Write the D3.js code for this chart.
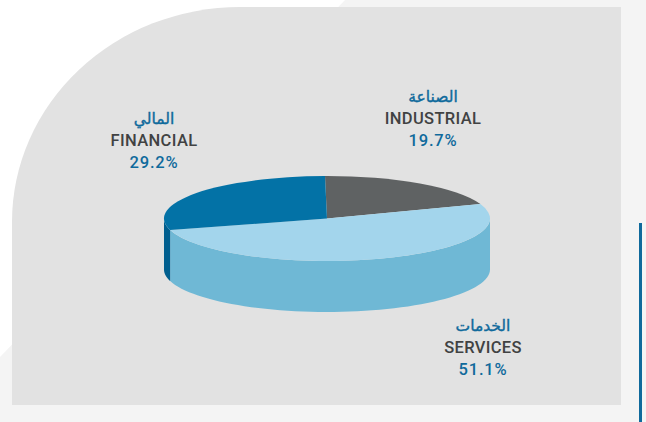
<!DOCTYPE html>
<html>
<head>
<meta charset="utf-8">
<script src="https://cdn.jsdelivr.net/npm/d3@7"></script>
<style>
  html, body { margin: 0; padding: 0; background: #fff; }
  svg { display: block; }
  text { text-anchor: middle; }
  .name { font-family: Roboto, sans-serif; font-weight: 500; font-size: 16.5px; letter-spacing: 0.35px; fill: #414243; }
  .pct { font-family: Roboto, sans-serif; font-weight: 500; font-size: 16.5px; letter-spacing: 0.8px; fill: #0f6a9c; }
  .ar { font-family: "DejaVu Sans", sans-serif; font-size: 15.5px; fill: #0f6a9c; stroke: #0f6a9c; stroke-width: 0.4px; }
</style>
</head>
<body>
<div class="chart"></div>
<script>
const categories = ["INDUSTRIAL", "SERVICES", "FINANCIAL"];
const arabicNames = ["الصناعة", "الخدمات", "المالي"];
const shares = [19.7, 51.1, 29.2];

const topColors = ["#5f6263", "#a3d5ec", "#0372a6"];
const sideColors = ["#4b4e4f", "#6fb8d5", "#005f8f"];

const width = 646,
  height = 422;

// pie geometry
const cx = 327,
  cy = 218.5,
  rx = 163,
  ry = 42.5,
  depth = 51;

// where each label block is centred, and the baseline of its middle line
const labelX = [433, 483, 154];
const labelY = [124, 353, 146];

const svg = d3
  .select(".chart")
  .append("svg")
  .attr("width", width)
  .attr("height", height)
  .attr("viewBox", "0 0 " + width + " " + height);

// backdrop: pale sheet with a cut corner, then the grey panel
svg
  .append("path")
  .attr("d", "M0 357L345 0H646V422H0Z")
  .attr("fill", "#f4f4f4");

svg
  .append("path")
  .attr("d", "M12 405V222A228 215 0 0 1 240 7H621V405Z")
  .attr("fill", "#e2e2e2");

svg
  .append("rect")
  .attr("x", 639)
  .attr("y", 223)
  .attr("width", 3)
  .attr("height", height - 223)
  .attr("fill", "#0f6a9c");

const startAngle = (-0.7 * Math.PI) / 180;

const pie = d3
  .pie()
  .sort(null)
  .startAngle(startAngle)
  .endAngle(startAngle + 2 * Math.PI);

const slices = pie(shares);

// Side wall of one slice: only the part facing the viewer (90 to 270 degrees)
const wallPath = function (d) {
  const a0 = Math.max(d.startAngle, Math.PI / 2);
  const a1 = Math.min(d.endAngle, (3 * Math.PI) / 2);
  if (a1 <= a0) return null;
  const angles = d3.range(0, 61).map((i) => a0 + ((a1 - a0) * i) / 60);
  const rim = angles.map((a) => [cx + rx * Math.sin(a), cy - ry * Math.cos(a)]);
  const floor = rim.map((p) => [p[0], p[1] + depth]).reverse();
  return d3.line()(rim.concat(floor)) + "Z";
};

svg
  .selectAll(".wall")
  .data(slices)
  .join("path")
  .attr("class", "wall")
  .attr("d", wallPath)
  .attr("fill", (d, i) => sideColors[i]);

const arc = d3.arc().innerRadius(0).outerRadius(rx);

svg
  .append("g")
  .attr("transform", "translate(" + cx + "," + cy + ") scale(1," + ry / rx + ")")
  .selectAll("path")
  .data(slices)
  .join("path")
  .attr("d", arc)
  .attr("fill", (d, i) => topColors[i]);

const labels = svg
  .selectAll(".label")
  .data(categories)
  .join("g")
  .attr("class", "label")
  .attr("transform", (d, i) => "translate(" + labelX[i] + "," + labelY[i] + ")");

labels
  .append("text")
  .attr("class", "ar")
  .attr("y", -22.5)
  .attr("direction", "rtl")
  .text((d, i) => arabicNames[i]);

labels
  .append("text")
  .attr("class", "name")
  .text((d) => d);

labels
  .append("text")
  .attr("class", "pct")
  .attr("y", 22)
  .text((d, i) => shares[i].toFixed(1) + "%");
</script>
</body>
</html>
